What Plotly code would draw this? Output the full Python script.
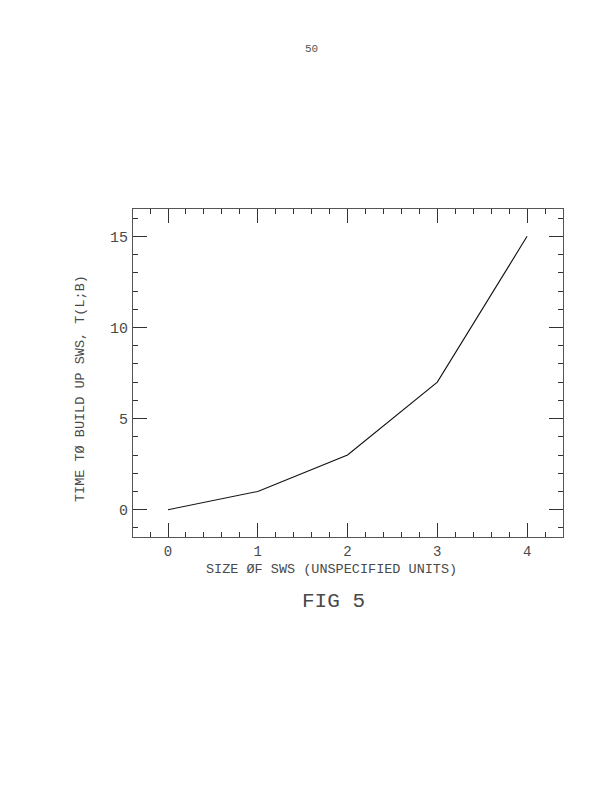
import plotly.graph_objects as go

# Data
sizes = [0, 1, 2, 3, 4]
build_times = [0, 1, 3, 7, 15]

x_ticks = [0, 1, 2, 3, 4]
y_ticks = [0, 5, 10, 15]

x_title = "SIZE ØF SWS (UNSPECIFIED UNITS)"
y_title = "TIME TØ BUILD UP SWS, T(L;B)"
fig_label = "FIG 5"
page_number = "50"

# page body has an 8px margin in the browser; work in page pixels
OFF = 8
W, H = 612 - OFF, 791 - OFF
# plot box in page pixels: x 133..563, y 209..537
L = 133 - OFF
T = 209 - OFF
R = W - (563 - OFF)
B = H - (537 - OFF)

FONT = "Liberation Mono"
TXT = "#4a4a4a"

fig = go.Figure()
fig.add_trace(go.Scatter(x=sizes, y=build_times, mode="lines",
                         line=dict(color="#111111", width=1.1),
                         showlegend=False, hoverinfo="skip"))

axis_common = dict(
    showgrid=False, zeroline=False, showline=True, linecolor="#555555",
    linewidth=1.2, mirror="allticks", ticks="inside", ticklen=14,
    tickcolor="#333333", tickwidth=1.1,
)

fig.update_xaxes(range=[-0.39, 4.4], tickvals=x_ticks,
                 ticktext=[str(v) for v in x_ticks],
                 tickfont=dict(family=FONT, size=14, color=TXT),
                 minor=dict(dtick=0.2, tick0=0, ticks="inside", ticklen=5,
                            tickcolor="#333333", tickwidth=1),
                 ticklabelstandoff=1, **axis_common)
fig.update_yaxes(range=[-1.5, 16.5], tickvals=y_ticks,
                 ticktext=[str(v) for v in y_ticks],
                 tickfont=dict(family=FONT, size=15, color=TXT),
                 minor=dict(dtick=1, tick0=0, ticks="inside", ticklen=5,
                            tickcolor="#333333", tickwidth=1),
                 ticklabelstandoff=1, **axis_common)

pw = W - L - R
ph = H - T - B

def px_to_paper_x(px):
    return (px - OFF - L) / pw

def px_to_paper_y(py):
    return (H - B - (py - OFF)) / ph

annotations = [
    dict(text=x_title, x=px_to_paper_x(331), y=px_to_paper_y(569),
         xref="paper", yref="paper", showarrow=False,
         font=dict(family=FONT, size=13.5, color=TXT),
         xanchor="center", yanchor="middle"),
    dict(text=fig_label, x=px_to_paper_x(333), y=px_to_paper_y(601),
         xref="paper", yref="paper", showarrow=False,
         font=dict(family=FONT, size=21, color=TXT),
         xanchor="center", yanchor="middle"),
    dict(text=y_title, x=px_to_paper_x(80), y=px_to_paper_y(389),
         xref="paper", yref="paper", showarrow=False, textangle=-90,
         font=dict(family=FONT, size=13.5, color=TXT),
         xanchor="center", yanchor="middle"),
    dict(text=page_number, x=px_to_paper_x(311), y=px_to_paper_y(49),
         xref="paper", yref="paper", showarrow=False,
         font=dict(family=FONT, size=11, color="#555555"),
         xanchor="center", yanchor="middle"),
]

fig.update_layout(width=W, height=H, margin=dict(l=L, r=R, t=T, b=B),
                  paper_bgcolor="white", plot_bgcolor="white",
                  annotations=annotations)

fig.write_html("out.html")
